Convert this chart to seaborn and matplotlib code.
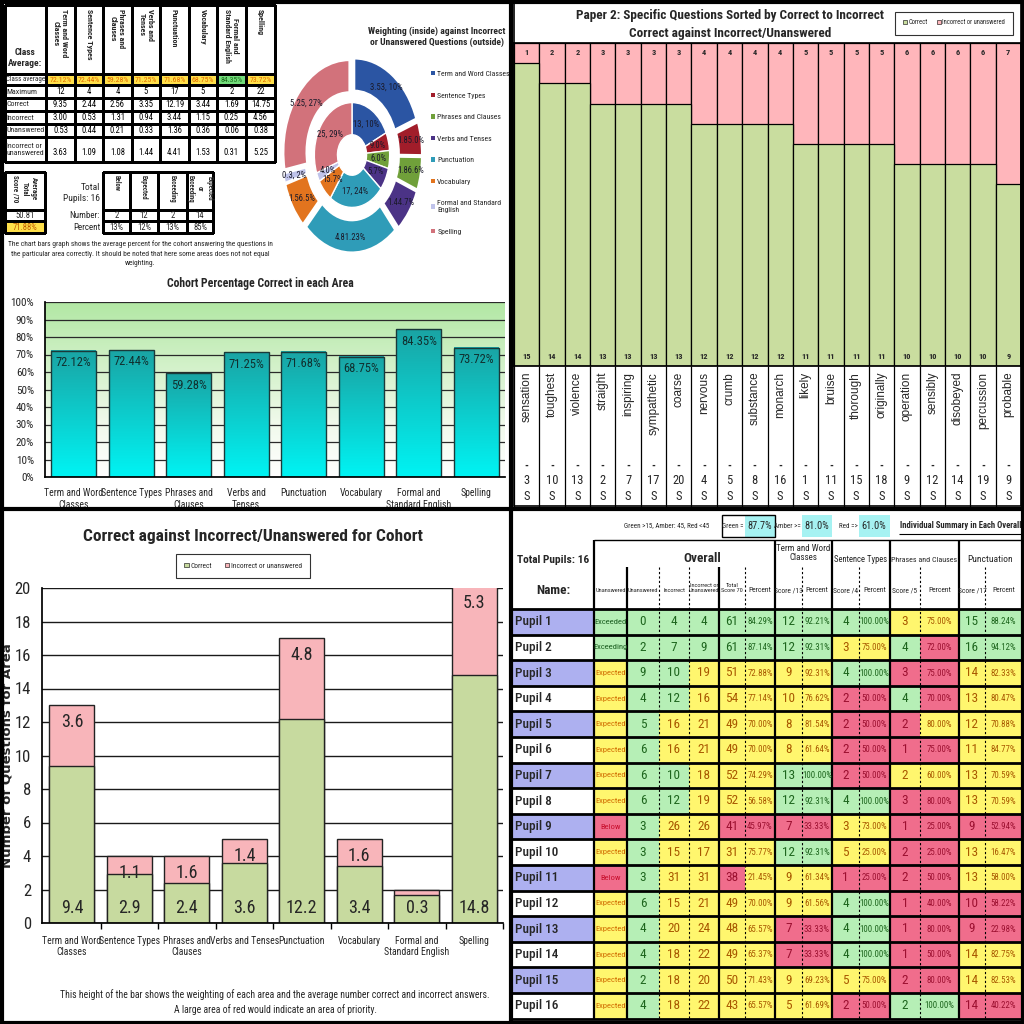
import numpy as np
import matplotlib
matplotlib.use("Agg")
import matplotlib.pyplot as plt
from matplotlib import font_manager
from matplotlib.colors import ListedColormap, LinearSegmentedColormap
from matplotlib.patches import Patch, Rectangle
import seaborn as sns

# ---------------- cohort summary (top-left) ----------------
AREA_HEAD = ["Term and Word\nClasses", "Sentence Types", "Phrases and\nClauses",
             "Verbs and\nTenses", "Punctuation", "Vocabulary",
             "Formal and\nStandard English", "Spelling"]
PCT_CORRECT = [72.12, 72.44, 59.28, 71.25, 71.68, 68.75, 84.35, 73.72]
MAX_MARKS = [12, 4, 4, 5, 17, 5, 2, 22]
AVG_CORRECT = [9.35, 2.44, 2.56, 3.35, 12.19, 3.44, 1.69, 14.75]
AVG_INCORRECT = [3.00, 0.53, 1.31, 0.94, 3.44, 1.15, 0.25, 4.56]
AVG_UNANSWERED = [0.53, 0.44, 0.21, 0.33, 1.36, 0.36, 0.06, 0.38]
AVG_INC_UNANS = [3.63, 1.09, 1.08, 1.44, 4.41, 1.53, 0.31, 5.25]
ROW_NAMES = ["Class average", "Maximum", "Correct", "Incorrect", "Unanswered",
             "Incorrect or\nunanswered"]

AVG_TOTAL = "50.81"
AVG_TOTAL_PCT = "71.88%"
BAND_NAMES = ["Below", "Expected", "Exceeding", "Expected\nor\nExceeding"]
BAND_NUMBER = [2, 12, 2, 14]
BAND_PERCENT = ["13%", "12%", "13%", "85%"]

# donut: inside = weighting, outside = incorrect / unanswered
DONUT_WEIGHT = [13, 4, 4, 5, 17, 5, 2, 22]
DONUT_INNER_LBL = ["13, 10%", "9.0%", "6.0%", "5.7%", "17, 24%", "15.7%", "4.0%", "25, 29%"]
DONUT_OUTER_LBL = ["3.53, 10%", "1.85.0%", "1.86.6%", "1.44.7%", "4.81.23%", "1.56.5%",
                   "0.3, 2%", "5.25, 27%"]
AREA_COLOURS = ["#2b55a3", "#a11d2a", "#70a03a", "#4b3386", "#2f9cb8", "#e2741e",
                "#bfc3ea", "#d2727b"]
LEGEND_NAMES = ["Term and Word Classes", "Sentence Types", "Phrases and Clauses",
                "Verbs and Tenses", "Punctuation", "Vocabulary",
                "Formal and Standard\nEnglish", "Spelling"]

# ---------------- question analysis (top-right) ----------------
WORDS = ["sensation", "toughest", "violence", "straight", "inspiring", "sympathetic",
         "coarse", "nervous", "crumb", "substance", "monarch", "likely", "bruise",
         "thorough", "originally", "operation", "sensibly", "disobeyed", "percussion",
         "probable"]
Q_CORRECT = [15, 14, 14, 13, 13, 13, 13, 12, 12, 12, 12, 11, 11, 11, 11, 10, 10, 10, 10, 9]
Q_WRONG = [1, 2, 2, 3, 3, 3, 3, 4, 4, 4, 4, 5, 5, 5, 5, 6, 6, 6, 6, 7]
Q_NUMBER = [3, 10, 13, 2, 7, 17, 20, 4, 5, 8, 16, 1, 11, 15, 18, 9, 12, 14, 19, 9]
Q_TYPE = ["S"] * 20

# ---------------- cohort stacked (bottom-left) ----------------
AREA_TICKS = ["Term and Word\nClasses", "Sentence Types", "Phrases and\nClauses",
              "Verbs and Tenses", "Punctuation", "Vocabulary",
              "Formal and\nStandard English", "Spelling"]
BAR_CORRECT = [9.4, 2.9, 2.4, 3.6, 12.2, 3.4, 1.7, 14.8]
BAR_WRONG = [3.6, 1.1, 1.6, 1.4, 4.8, 1.6, 0.3, 5.3]
BAR_CORRECT_LBL = ["9.4", "2.9", "2.4", "3.6", "12.2", "3.4", "0.3", "14.8"]

# ---------------- individual summary (bottom-right) ----------------
PUPILS = [f"Pupil {i}" for i in range(1, 17)]
STATUS = ["Exceeded", "Exceeding"] + ["Expected"] * 6 + ["Below", "Expected", "Below"] + ["Expected"] * 5
UNANSWERED = [0, 2, 9, 4, 5, 6, 6, 6, 3, 3, 3, 6, 4, 4, 2, 4]
INCORRECT = [4, 7, 10, 12, 16, 16, 10, 12, 26, 15, 31, 15, 20, 18, 18, 18]
INC_UNANS = [4, 9, 19, 16, 21, 21, 18, 19, 26, 17, 31, 21, 24, 22, 20, 22]
TOTAL_SCORE = [61, 61, 51, 54, 49, 49, 52, 52, 41, 31, 38, 49, 48, 49, 50, 43]
OVERALL_PCT = [84.29, 87.14, 72.88, 77.14, 70.00, 70.00, 74.29, 56.58, 45.97, 75.77,
               21.45, 70.00, 65.57, 65.37, 71.43, 65.57]
TWC_SCORE = [12, 12, 9, 10, 8, 8, 13, 12, 7, 12, 9, 9, 7, 7, 9, 5]
TWC_PCT = [92.21, 92.31, 92.31, 76.62, 81.54, 61.64, 100.00, 92.31, 33.33, 92.31,
           61.34, 61.56, 33.33, 33.33, 69.23, 61.69]
ST_SCORE = [4, 3, 4, 2, 2, 2, 2, 4, 3, 5, 1, 4, 4, 4, 5, 2]
ST_PCT = [100.00, 75.00, 100.00, 50.00, 50.00, 50.00, 50.00, 100.00, 73.00, 25.00,
          25.00, 100.00, 100.00, 100.00, 75.00, 50.00]
PC_SCORE = [3, 4, 3, 4, 2, 1, 2, 3, 1, 2, 2, 1, 1, 1, 2, 2]
PC_PCT = [75.00, 72.00, 75.00, 70.00, 80.00, 75.00, 60.00, 80.00, 25.00, 25.00,
          50.00, 40.00, 80.00, 50.00, 80.00, 100.00]
P_SCORE = [15, 16, 14, 13, 12, 11, 13, 13, 9, 13, 13, 10, 9, 14, 14, 14]
P_PCT = [88.24, 94.12, 82.33, 80.47, 70.88, 84.77, 70.59, 70.59, 52.94, 16.47,
         58.00, 58.22, 22.98, 82.75, 82.53, 40.22]
# one letter per data column (status .. punctuation percent): g / y / r
CELL_RAG = ["ggggggggggyygg", "ggggggggyygrgg", "yggyyyyyggrryy", "yggyyyyyrrgryy",
            "ygyyyyyyrrryyy", "ygyyyyyyrrrryy", "yggyyyggrryyyy", "yggyyyggggrryy",
            "rgyyrrrryyrrrr", "ygyyyyggyyrryy", "rgyyryyyrrrryy", "ygyyyyyyggrrrr",
            "ygyyyyrrggrrrr", "ygyyyyrrggrryy", "ygyyyyyyyyrryy", "ygyyyyyyrrggrr"]
SUB_HEAD = ["Unanswered", "Unanswered", "Incorrect", "Incorrect or\nUnanswered",
            "Total\nScore 70", "Percent", "Score /13", "Percent", "Score /4", "Percent",
            "Score /5", "Percent", "Score /17", "Percent"]

# ------------------ fonts --------------------------
ttf = font_manager.fontManager.ttflist
NARROW, STRETCH = None, "normal"
for cand in ["Liberation Sans Narrow", "Roboto Condensed", "DejaVu Sans Condensed",
             "Noto Sans Condensed", "Open Sans Condensed"]:
    if any(f.name == cand for f in ttf):
        NARROW = cand
        break
if NARROW is None:
    for f in ttf:
        if f.stretch in ("condensed", "semi-condensed", "extra-condensed") and \
                "Mono" not in f.name and "Serif" not in f.name:
            NARROW, STRETCH = f.name, f.stretch
            break
FS = 1.0
if NARROW is None:
    NARROW, FS = "Liberation Sans", 0.84

sns.set_theme(style="white")
plt.rcParams["font.family"] = [NARROW, "DejaVu Sans"]
plt.rcParams["font.stretch"] = STRETCH


def fs(v):
    return v * FS


fig = plt.figure(figsize=(10.24, 10.24), dpi=100)


def px_axes(x0, y0, x1, y1):
    return fig.add_axes([x0 / 1024, 1 - y1 / 1024, (x1 - x0) / 1024, (y1 - y0) / 1024])


def fx(x):
    return x / 1024


def fy(y):
    return 1 - y / 1024


ov = px_axes(0, 0, 1024, 1024)
ov.set_xlim(0, 1024)
ov.set_ylim(1024, 0)
ov.axis("off")

GREEN_Q, PINK_Q = "#c9dd9f", "#ffb6bb"

# ================= top-left: summary table =================
TL_X = [5, 46, 75, 103, 132, 160, 189, 217, 246, 275]
TL_Y = [5, 74, 85, 98, 111, 124, 137, 162]
codes = np.zeros((7, 9))
codes[1, 1:] = 1
codes[1, 7] = 2
ov.pcolormesh(TL_X, TL_Y, codes, cmap=ListedColormap(["white", "#ffe04a", "#72dc7a"]),
              vmin=-0.5, vmax=2.5, edgecolors="black", linewidth=0.8)
ov.text(25, 58, "Class\nAverage:", ha="center", va="center", fontsize=fs(6.8), fontweight="bold")
for j, lab in enumerate(AREA_HEAD):
    ov.text((TL_X[j + 1] + TL_X[j + 2]) / 2, 9, lab, rotation=270, ha="center", va="top",
            fontsize=fs(5.8), fontweight="bold")
for i, lab in enumerate(ROW_NAMES):
    ov.text(6.5, (TL_Y[i + 1] + TL_Y[i + 2]) / 2, lab, ha="left", va="center",
            fontsize=fs(5.0 if i == 0 else 5.7))
rows = [[f"{v:.2f}%" for v in PCT_CORRECT], [str(v) for v in MAX_MARKS],
        [f"{v:.2f}" for v in AVG_CORRECT], [f"{v:.2f}" for v in AVG_INCORRECT],
        [f"{v:.2f}" for v in AVG_UNANSWERED], [f"{v:.2f}" for v in AVG_INC_UNANS]]
for i, row in enumerate(rows):
    for j, val in enumerate(row):
        col = "black"
        if i == 0:
            col = "#1d6b1d" if j == 6 else "#e06a00"
        ov.text((TL_X[j + 1] + TL_X[j + 2]) / 2, (TL_Y[i + 1] + TL_Y[i + 2]) / 2 + (3 if i == 5 else 0),
                val, ha="center", va="center", fontsize=fs(5.6 if i == 0 else 6.2), color=col)

# average total box
ov.pcolormesh([5, 45], [172, 210, 221, 233], np.array([[0], [0], [1]]),
              cmap=ListedColormap(["white", "#ffe04a"]), vmin=-0.5, vmax=1.5,
              edgecolors="black", linewidth=0.8)
ov.text(25, 175, "Average\nTotal\nScore /70", rotation=270, ha="center", va="top", fontsize=fs(5),
        fontweight="bold")
ov.text(25, 215.5, AVG_TOTAL, ha="center", va="center", fontsize=fs(6.2))
ov.text(25, 227, AVG_TOTAL_PCT, ha="center", va="center", fontsize=fs(6.2), color="#c05a00")

# pupils per band
BX = [103, 130, 158, 187, 213]
ov.pcolormesh(BX, [172, 210, 221, 233], np.zeros((3, 4)), cmap=ListedColormap(["white"]),
              edgecolors="black", linewidth=0.8)
ov.text(100, 193, "Total\nPupils: 16", ha="right", va="center", fontsize=fs(6.8), linespacing=1.4)
ov.text(100, 215.5, "Number:", ha="right", va="center", fontsize=fs(6.5))
ov.text(100, 227, "Percent", ha="right", va="center", fontsize=fs(6.5))
for j in range(4):
    cx = (BX[j] + BX[j + 1]) / 2
    ov.text(cx, 175, BAND_NAMES[j], rotation=270, ha="center", va="top", fontsize=fs(4.8),
            fontweight="bold")
    ov.text(cx, 215.5, str(BAND_NUMBER[j]), ha="center", va="center", fontsize=fs(6.2))
    ov.text(cx, 227, BAND_PERCENT[j], ha="center", va="center", fontsize=fs(6.2))

ov.text(140, 254, "The chart bars graph shows the average percent for the cohort answering the questions in\n"
        "the particular area correctly. It should be noted that here some areas does not not equal\n"
        "weighting.", ha="center", va="center", fontsize=fs(5.4), linespacing=1.5)

# ================= top-left: donut =================
axd = px_axes(278, 52, 426, 258)
inner, _ = axd.pie(DONUT_WEIGHT, radius=0.57, startangle=90, counterclock=False,
                   colors=AREA_COLOURS, wedgeprops=dict(width=0.35, edgecolor="white", linewidth=1))
outer, _ = axd.pie(AVG_INC_UNANS, radius=1.0, startangle=90, counterclock=False,
                   colors=AREA_COLOURS, explode=[0.06] * 7 + [0.05],
                   wedgeprops=dict(width=0.35, edgecolor="white", linewidth=1.5))
axd.set_aspect("auto")
axd.set_xlim(-1.12, 1.12)
axd.set_ylim(-1.12, 1.12)
for wedges, lbls, rad in [(inner, DONUT_INNER_LBL, 0.40), (outer, DONUT_OUTER_LBL, 0.84)]:
    for w, lab in zip(wedges, lbls):
        ang = np.deg2rad((w.theta1 + w.theta2) / 2)
        cx, cy = w.center
        axd.text(cx + rad * np.cos(ang), cy + rad * np.sin(ang), lab, ha="center", va="center",
                 fontsize=fs(6.2), color="#1a1a2a")
fig.text(fx(437), fy(37), "Weighting (inside) against Incorrect\nor Unanswered Questions (outside)",
         ha="center", va="center", fontsize=fs(6.8), fontweight="bold", linespacing=1.2)
handles = [Patch(facecolor=c, edgecolor="none") for c in AREA_COLOURS]
fig.legend(handles, LEGEND_NAMES, loc="upper left", bbox_to_anchor=(fx(424), fy(64)),
           frameon=False, fontsize=fs(5.6), handlelength=0.5, handleheight=0.5,
           handletextpad=0.3, labelspacing=2.0 / FS)

# ================= top-left: cohort % correct =================
ax1 = px_axes(45, 302, 505, 477)
sns.barplot(x=AREA_HEAD, y=PCT_CORRECT, ax=ax1, width=0.78, color="#20c0c0", saturation=1,
            edgecolor="#1a3a3a", linewidth=1)
grad = np.linspace(0, 1, 256).reshape(-1, 1)
bg_cmap = LinearSegmentedColormap.from_list("bg", [(0, "white"), (0.3, "#f1faec"), (1, "#b2e8a4")])
bar_cmap = LinearSegmentedColormap.from_list("bar", ["#00f4f4", "#1aa4a4"])
ax1.imshow(grad, extent=[-0.5, 7.5, 0, 100], origin="lower", cmap=bg_cmap, aspect="auto", zorder=0)
for p in ax1.patches:
    x0, w, h = p.get_x(), p.get_width(), p.get_height()
    ax1.imshow(grad, extent=[x0, x0 + w, 0, h], origin="lower", cmap=bar_cmap, aspect="auto",
               zorder=1.5)
    p.set_facecolor("none")
    p.set_zorder(2)
for i, v in enumerate(PCT_CORRECT):
    ax1.text(i, v - 3, f"{v:.2f}%", ha="center", va="top", fontsize=fs(9), color="#10302f", zorder=3)
ax1.set_xlim(-0.5, 7.5)
ax1.set_ylim(0, 100)
ax1.set_axisbelow(True)
ax1.yaxis.grid(True, color="#2a2a2a", lw=0.9)
ax1.set_yticks(range(0, 101, 10))
ax1.set_yticklabels([f"{t}%" for t in range(0, 101, 10)], fontsize=fs(8))
ax1.tick_params(axis="x", labelsize=fs(7), pad=2)
ax1.tick_params(axis="y", pad=2)
for s in ["top", "right"]:
    ax1.spines[s].set_visible(False)
for s in ["left", "bottom"]:
    ax1.spines[s].set_color("black")
fig.text(fx(260), fy(283), "Cohort Percentage Correct in each Area", ha="center", va="center",
         fontsize=fs(8.5), fontweight="bold")

# ================= top-right: question breakdown =================
ax2 = px_axes(514, 43, 1021, 366)
q_total = [c + w for c, w in zip(Q_CORRECT, Q_WRONG)]
sns.barplot(x=WORDS, y=q_total, ax=ax2, color=PINK_Q, saturation=1, width=1,
            edgecolor="black", linewidth=0.9)
sns.barplot(x=WORDS, y=Q_CORRECT, ax=ax2, color=GREEN_Q, saturation=1, width=1,
            edgecolor="black", linewidth=0.9)
ax2.set_xlim(-0.5, 19.5)
ax2.set_ylim(0, 16)
ax2.set_xticks([])
ax2.set_yticks([])
ax2.set_xlabel("")
for s in ax2.spines.values():
    s.set_color("black")
xt = ax2.get_xaxis_transform()
for i in range(20):
    ax2.text(i, 15.55, str(Q_WRONG[i]), ha="center", va="center", fontsize=fs(6), fontweight="bold")
    ax2.text(i, 0.45, str(Q_CORRECT[i]), ha="center", va="center", fontsize=fs(6), fontweight="bold")
    ax2.text(i, -0.018, WORDS[i], transform=xt, rotation=90, ha="center", va="top",
             fontsize=8.5, family="Liberation Sans", fontstretch="normal")
    ax2.text(i, -0.31, "-", transform=xt, ha="center", va="center", fontsize=8, fontweight="bold")
    ax2.text(i, -0.355, str(Q_NUMBER[i]), transform=xt, ha="center", va="center", fontsize=fs(9))
    ax2.text(i, -0.405, Q_TYPE[i], transform=xt, ha="center", va="center", fontsize=fs(9))
ax2.vlines(np.arange(-0.5, 20, 1), -0.435, 0, transform=xt, colors="black", lw=0.9, clip_on=False)
fig.text(fx(730), fy(16), "Paper 2: Specific Questions Sorted by Correct to Incorrect",
         ha="center", va="center", fontsize=fs(9.5), fontweight="bold")
fig.text(fx(730), fy(33), "Correct against Incorrect/Unanswered", ha="center", va="center",
         fontsize=fs(9.5), fontweight="bold")
q_handles = [Patch(facecolor=GREEN_Q, edgecolor="black", lw=0.4),
             Patch(facecolor=PINK_Q, edgecolor="black", lw=0.4)]
fig.legend(q_handles, ["Correct", "Incorrect or unanswered"], loc="center",
           bbox_to_anchor=(fx(954), fy(23)), ncol=2, fontsize=fs(4.8), frameon=True, fancybox=False,
           edgecolor="black", handlelength=0.6, handleheight=0.6, handletextpad=0.2,
           columnspacing=1.4, borderpad=1.2).get_frame().set_linewidth(0.8)

# ================= bottom-left: stacked cohort bars =================
ax3 = px_axes(42, 588, 503, 923)
bar_total = [c + w for c, w in zip(BAR_CORRECT, BAR_WRONG)]
sns.barplot(x=AREA_TICKS, y=bar_total, ax=ax3, color="#f8b5ba", saturation=1, width=0.78,
            edgecolor="#222222", linewidth=1)
sns.barplot(x=AREA_TICKS, y=BAR_CORRECT, ax=ax3, color="#c7da9f", saturation=1, width=0.78,
            edgecolor="#222222", linewidth=1)
ax3.set_xlim(-0.52, 7.46)
ax3.set_ylim(0, 20)
ax3.set_axisbelow(True)
ax3.yaxis.grid(True, color="#1a1a1a", lw=1)
ax3.set_yticks(range(0, 21, 2))
ax3.tick_params(axis="y", labelsize=fs(12), pad=2)
ax3.tick_params(axis="x", labelsize=fs(7), pad=3)
ax3.set_xticks(np.arange(8) + 0.5, minor=True)
ax3.tick_params(axis="x", which="minor", length=4, width=1, color="black", direction="out", bottom=True)
for s in ["top", "right"]:
    ax3.spines[s].set_visible(False)
for s in ["left", "bottom"]:
    ax3.spines[s].set_color("black")
ax3.set_ylabel("Number of Questions for Area", fontsize=9.5, fontweight="bold",
               family="DejaVu Sans", fontstretch="normal")
ax3.yaxis.set_label_coords(-0.062, 0.5)
for i in range(8):
    ax3.text(i, 0.9, BAR_CORRECT_LBL[i], ha="center", va="center", fontsize=fs(13))
    if BAR_WRONG[i] > 0.5:
        ax3.text(i, bar_total[i] - 1.0, f"{BAR_WRONG[i]:.1f}", ha="center", va="center",
                 fontsize=fs(13))
fig.text(fx(253), fy(537), "Correct against Incorrect/Unanswered for Cohort", ha="center",
         va="center", fontsize=fs(12.5), fontweight="bold")
fig.legend([Patch(facecolor="#c7da9f", edgecolor="black", lw=0.4),
            Patch(facecolor="#f8b5ba", edgecolor="black", lw=0.4)],
           ["Correct", "Incorrect or unanswered"], loc="center", bbox_to_anchor=(fx(243), fy(566)),
           ncol=2, fontsize=fs(5.3), frameon=True, fancybox=False, edgecolor="black", handlelength=0.6,
           handleheight=0.6, handletextpad=0.2, columnspacing=1.8,
           borderpad=1.1).get_frame().set_linewidth(0.8)
fig.text(fx(275), fy(995), "This height of the bar shows the weighting of each area and the average "
         "number correct and incorrect answers.", ha="center", va="center", fontsize=fs(7))
fig.text(fx(275), fy(1010), "A large area of red would indicate an area of priority.",
         ha="center", va="center", fontsize=fs(7))

# ================= bottom-right: pupil table =================
BR_X = [512, 594, 627, 659, 689, 719, 745, 775, 802, 832, 859, 890, 920, 959, 985, 1022]
row_y = 609 + 25.6 * np.arange(17)
rag_code = {"g": 0, "y": 1, "r": 2}
cell_codes = np.array([[3 if k % 2 == 0 else 4] + [rag_code[c] for c in CELL_RAG[k]]
                       for k in range(16)])
ov.pcolormesh(BR_X, row_y, cell_codes,
              cmap=ListedColormap(["#b6efb6", "#fff66e", "#f06d8c", "#adb0f0", "white"]),
              vmin=-0.5, vmax=4.5)
text_col = {"g": "#1e661e", "y": "#a85800", "r": "#9c1030"}
status_col = {"Exceeded": "#1b5e20", "Exceeding": "#1b5e20", "Expected": "#d06a00",
              "Below": "#c8102e"}
columns = [STATUS, UNANSWERED, INCORRECT, INC_UNANS, TOTAL_SCORE, OVERALL_PCT, TWC_SCORE,
           TWC_PCT, ST_SCORE, ST_PCT, PC_SCORE, PC_PCT, P_SCORE, P_PCT]
pct_cols = {5, 7, 9, 11, 13}
for k in range(16):
    cy = (row_y[k] + row_y[k + 1]) / 2
    ov.text(515, cy, PUPILS[k], ha="left", va="center", fontsize=fs(9.5), fontweight="medium")
    for j, col in enumerate(columns):
        cx = (BR_X[j + 1] + BR_X[j + 2]) / 2
        v = col[k]
        if j == 0:
            ov.text(cx, cy, v, ha="center", va="center", fontsize=fs(6.1), color=status_col[v])
        elif j in pct_cols:
            ov.text(cx, cy, f"{v:.2f}%", ha="center", va="center", fontsize=fs(6.4),
                    color=text_col[CELL_RAG[k][j]])
        else:
            ov.text(cx, cy, str(v), ha="center", va="center", fontsize=fs(9.5),
                    color=text_col[CELL_RAG[k][j]])
ov.hlines(row_y, 512, 1022, colors="black", lw=2)
ov.hlines(540, 594, 1022, colors="black", lw=1)
ov.vlines([594, 775, 832, 890, 959], 540, row_y[-1], colors="black", lw=1.6)
ov.vlines([627, 719], 567, row_y[-1], colors="black", lw=1.6)
ov.vlines([659, 689, 745, 802, 859, 920, 985], 567, row_y[-1], colors="black", lw=0.8,
          linestyles=(0, (2, 2)))

# header strip
ov.text(667, 526, "Green >15, Amber: 45, Red <45", ha="center", va="center", fontsize=fs(5))
for x0, x1 in [(745, 775), (802, 832), (859, 890)]:
    ov.add_patch(Rectangle((x0, 515), x1 - x0, 22, facecolor="#a6f2f2", edgecolor="none"))
ov.add_patch(Rectangle((722, 515), 53, 22, facecolor="none", edgecolor="black", lw=1))
ov.text(744, 526, "Green =", ha="right", va="center", fontsize=fs(5))
ov.text(760, 526, "87.7%", ha="center", va="center", fontsize=fs(7.5))
ov.text(801, 526, "Amber >=", ha="right", va="center", fontsize=fs(5))
ov.text(817, 526, "81.0%", ha="center", va="center", fontsize=fs(7.5))
ov.text(858, 526, "Red =>", ha="right", va="center", fontsize=fs(5))
ov.text(874, 526, "61.0%", ha="center", va="center", fontsize=fs(7.5))
ov.text(1021, 525, "Individual Summary in Each Overall", ha="right", va="center", fontsize=fs(6.2),
        fontweight="bold")
ov.hlines(534, 899, 1021, colors="black", lw=0.8)

ov.text(553, 560, "Total Pupils: 16", ha="center", va="center", fontsize=fs(8.2), fontweight="bold")
ov.text(553, 590, "Name:", ha="center", va="center", fontsize=fs(9.5), fontweight="bold")
ov.text(702, 558, "Overall", ha="center", va="center", fontsize=fs(9.5), fontweight="bold")
ov.text(803, 553, "Term and Word\nClasses", ha="center", va="center", fontsize=fs(6.5), linespacing=1.1)
ov.text(861, 560, "Sentence Types", ha="center", va="center", fontsize=fs(6.2))
ov.text(924, 560, "Phrases and Clauses", ha="center", va="center", fontsize=fs(5.8))
ov.text(990, 560, "Punctuation", ha="center", va="center", fontsize=fs(6.8))
for j, lab in enumerate(SUB_HEAD):
    ov.text((BR_X[j + 1] + BR_X[j + 2]) / 2, 591 if "\n" not in lab else 588, lab,
            ha="center", va="center", fontsize=fs(4.6 if j < 5 else 5.4), linespacing=1.1)

# ================= frame =================
fr = px_axes(0, 0, 1024, 1024)
fr.set_xlim(0, 1024)
fr.set_ylim(1024, 0)
fr.axis("off")
fr.add_patch(Rectangle((1.5, 1.5), 1021, 1021, fill=False, lw=3, ec="black"))
fr.add_patch(Rectangle((514, 3), 507, 503, fill=False, lw=1.2, ec="black"))
fr.plot([511, 511], [0, 1024], color="black", lw=3)
fr.plot([0, 1024], [509, 509], color="black", lw=3)

fig.savefig("out.png", dpi=100)
